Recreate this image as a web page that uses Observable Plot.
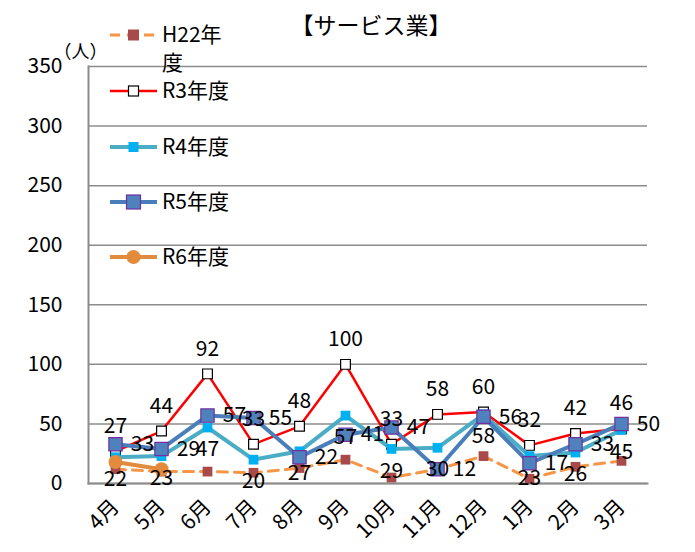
<!DOCTYPE html>
<html>
<head>
<meta charset="utf-8">
<script src="https://cdn.jsdelivr.net/npm/d3@7"></script>
<script src="https://cdn.jsdelivr.net/npm/@observablehq/plot@0.6"></script>
<style>
  html, body { margin: 0; padding: 0; background: #fff; overflow: hidden; }
  #chart { position: relative; width: 695px; height: 552px; }
</style>
</head>
<body>
<div id="chart"></div>
<script>
const months = ["4月","5月","6月","7月","8月","9月","10月","11月","12月","1月","2月","3月"];
const h22 = [12, 10, 10, 9, 13, 20, 5, 12, 23, 4, 14, 19];
const r3  = [27, 44, 92, 33, 48, 100, 33, 58, 60, 32, 42, 46];
const r4  = [22, 23, 47, 20, 27, 57, 29, 30, 58, 23, 26, 45];
const r5  = [33, 29, 57, 55, 22, 41, 47, 12, 56, 17, 33, 50];
const r6  = [18, 12];
const yTicks = [0, 50, 100, 150, 200, 250, 300, 350];
const seriesNames = ["H22年度", "R3年度", "R4年度", "R5年度", "R6年度"];
const title = "【サービス業】";
const unit = "（人）";

const toRows = (vals) => vals.map((v, i) => ({month: months[i], value: v}));
const H22 = toRows(h22), R3 = toRows(r3), R4 = toRows(r4), R5 = toRows(r5), R6 = toRows(r6);

const C = {
  h22Line: "#F79646", h22Mark: "#A84A4A",
  r3: "#FF0000",
  r4Line: "#4BACC6", r4Mark: "#00B0F0",
  r5Line: "#4A7EBB", r5Mark: "#4F81BD", r5Stroke: "#7030A0",
  r6: "#E38B3D",
  grid: "#8C8C8C"
};
const FONT = "'Noto Sans CJK JP', 'Noto Sans', sans-serif";
const FS = 21;

const plot = Plot.plot({
  width: 695,
  height: 552,
  marginLeft: 88,
  marginRight: 48,
  marginTop: 66,
  marginBottom: 69,
  style: {fontFamily: FONT, fontSize: FS + "px", color: "#000", background: "#fff"},
  x: {type: "point", domain: months, padding: 0.5, label: null},
  y: {domain: [0, 350], ticks: yTicks, label: null},
  marks: [
    Plot.gridY(yTicks, {stroke: C.grid, strokeOpacity: 1, strokeWidth: 1.5}),
    Plot.axisY(yTicks, {tickSize: 0, tickPadding: 26, fontSize: FS, label: null}),
    Plot.axisX({tickSize: 0, tickRotate: -45, tickPadding: 20, fontSize: FS, label: null}),
    Plot.frame({anchor: "left", stroke: C.grid, strokeWidth: 2}),
    Plot.frame({anchor: "bottom", stroke: C.grid, strokeWidth: 2}),
    // H22
    Plot.line(H22, {x: "month", y: "value", stroke: C.h22Line, strokeWidth: 3, strokeDasharray: "10,7"}),
    Plot.dot(H22, {x: "month", y: "value", symbol: "square", r: 5.5, fill: C.h22Mark, stroke: "none"}),
    // R3
    Plot.line(R3, {x: "month", y: "value", stroke: C.r3, strokeWidth: 2.5}),
    Plot.dot(R3, {x: "month", y: "value", symbol: "square", r: 5.5, fill: "#fff", stroke: "#000", strokeWidth: 1.2}),
    // R4
    Plot.line(R4, {x: "month", y: "value", stroke: C.r4Line, strokeWidth: 4}),
    Plot.dot(R4, {x: "month", y: "value", symbol: "square", r: 5.5, fill: C.r4Mark, stroke: "none"}),
    // R5
    Plot.line(R5, {x: "month", y: "value", stroke: C.r5Line, strokeWidth: 4}),
    Plot.dot(R5, {x: "month", y: "value", symbol: "square", r: 7.5, fill: C.r5Mark, stroke: C.r5Stroke, strokeWidth: 1.2}),
    // R6
    Plot.line(R6, {x: "month", y: "value", stroke: C.r6, strokeWidth: 4}),
    Plot.dot(R6, {x: "month", y: "value", symbol: "circle", r: 7, fill: C.r6, stroke: "none"}),
    // data labels
    Plot.text(R3, {x: "month", y: "value", text: "value", dy: -25, fontSize: FS, fill: "#000"}),
    Plot.text(R4, {x: "month", y: "value", text: "value", dy: 22, fontSize: FS, fill: "#000"}),
    Plot.text(R5, {x: "month", y: "value", text: "value", dx: 27, fontSize: FS, fill: "#000"}),
    // title and unit
    Plot.text([title], {frameAnchor: "top", dy: -49, dx: 3, fontSize: 23, fill: "#000"}),
    Plot.text([unit], {frameAnchor: "top-left", dx: -8, dy: -21, textAnchor: "middle", fontSize: 18, fill: "#000"})
  ]
});

document.getElementById("chart").appendChild(plot);

// Legend (inside plot area, top-left)
const svg = d3.select(plot);
const lg = svg.append("g").attr("font-family", FONT).attr("font-size", FS).attr("text-anchor", "start");
const legendY = [35, 91, 147, 202, 257];
const x0 = 110, x1 = 157, xm = 133.5, xt = 162;
const items = [
  {line: C.h22Line, dash: "10,7", w: 3, mark: "square", fill: C.h22Mark, stroke: "none", size: 11},
  {line: C.r3, dash: null, w: 2.5, mark: "square", fill: "#fff", stroke: "#000", size: 10},
  {line: C.r4Line, dash: null, w: 4, mark: "square", fill: C.r4Mark, stroke: "none", size: 10},
  {line: C.r5Line, dash: null, w: 4, mark: "square", fill: C.r5Mark, stroke: C.r5Stroke, size: 14},
  {line: C.r6, dash: null, w: 4, mark: "circle", fill: C.r6, stroke: "none", size: 14}
];
items.forEach((it, i) => {
  const y = legendY[i];
  const g = lg.append("g");
  g.append("line").attr("x1", x0).attr("x2", x1).attr("y1", y).attr("y2", y)
    .attr("stroke", it.line).attr("stroke-width", it.w)
    .attr("stroke-dasharray", it.dash);
  if (it.mark === "square") {
    g.append("rect").attr("x", xm - it.size / 2).attr("y", y - it.size / 2)
      .attr("width", it.size).attr("height", it.size)
      .attr("fill", it.fill).attr("stroke", it.stroke).attr("stroke-width", 1.2);
  } else {
    g.append("circle").attr("cx", xm).attr("cy", y).attr("r", it.size / 2).attr("fill", it.fill);
  }
  const name = seriesNames[i];
  if (i === 0) {
    g.append("text").attr("x", xt).attr("y", y).attr("dy", "0.35em").text(name.slice(0, 4));
    g.append("text").attr("x", xt).attr("y", y + 28).attr("dy", "0.35em").text(name.slice(4));
  } else {
    g.append("text").attr("x", xt).attr("y", y).attr("dy", "0.35em").text(name);
  }
});
</script>
</body>
</html>
